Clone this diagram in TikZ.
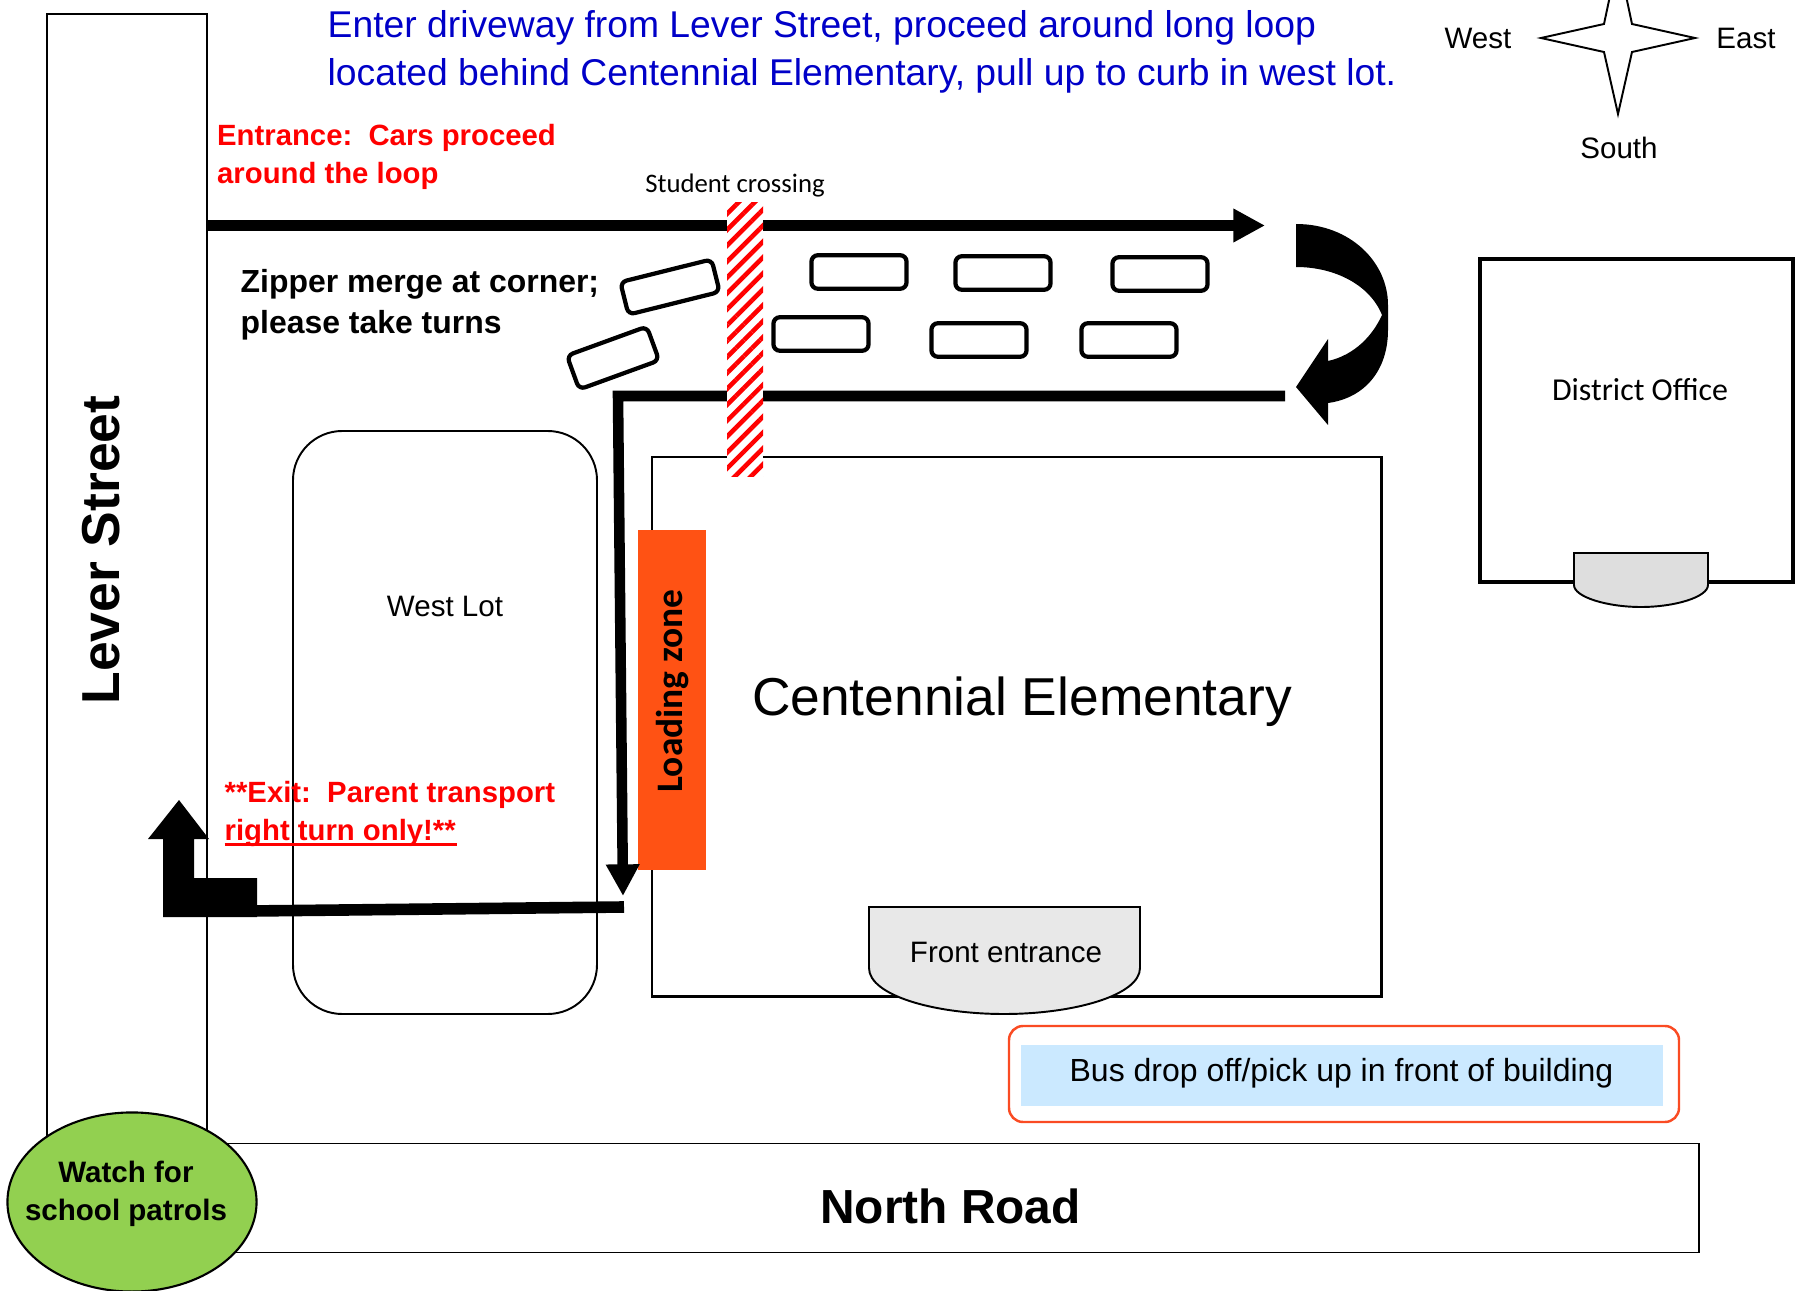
\documentclass[tikz,border=0pt]{standalone}
\usepackage{fontspec}
\setmainfont{Liberation Sans}
\newfontfamily\carlitofont{Carlito}
\usetikzlibrary{arrows.meta,patterns.meta,shapes.geometric}
\definecolor{bluetext}{RGB}{0,0,200}
\definecolor{loadorange}{RGB}{255,82,20}
\definecolor{watchgreen}{RGB}{146,208,80}
\definecolor{busblue}{RGB}{203,233,255}
\definecolor{busborder}{RGB}{250,75,35}
\definecolor{doorgrey}{RGB}{222,222,222}
\definecolor{frontgrey}{RGB}{232,232,232}
\tikzset{
    plainlabel/.style={inner sep=0, font=\fontsize{8.4}{10}\selectfont},
    calibrilabel/.style={inner sep=0, font=\carlitofont\fontsize{9.08}{10}\selectfont},
    redlabel/.style={inner sep=0, anchor=west, align=left, text=red, font=\bfseries\fontsize{8.33}{10.8}\selectfont},
    roadline/.style={line width=3pt},
    thinwall/.style={draw=black, line width=0.55pt},
    carbox/.style={draw=black, line width=1.2pt, rectangle, rounded corners=1.8pt, minimum width=0.95cm, minimum height=0.335cm, inner sep=0},
}
\begin{document}
\begin{tikzpicture}[x=0.01cm, y=-0.01cm]
    \useasboundingbox (0,0) rectangle (1796,1291);
    \clip (0,0) rectangle (1796,1291);
    \draw[thinwall] (47,14) rectangle (207,1150);
    \draw[thinwall] (150,1143.5) rectangle (1699,1252.5);
    \draw[thinwall, rounded corners=14pt] (293,431) rectangle (597,1014);
    \draw[thinwall, line width=0.62pt] (652,457) rectangle (1381.5,996.5);
    \draw[draw=black, line width=1.1pt] (1480,582) -- (1480,259) -- (1793,259) -- (1793,582) -- cycle;
    \draw[thinwall, fill=frontgrey] (869,907) -- (1140,907) -- (1140,968) .. controls (1140,995) and (1075,1014) .. (1004,1014) .. controls (933,1014) and (869,995) .. (869,968) -- cycle;
    \draw[thinwall, fill=doorgrey] (1574,553) -- (1708,553) -- (1708,585) .. controls (1708,597) and (1675,607) .. (1641,607) .. controls (1607,607) and (1574,597) .. (1574,585) -- cycle;
    \fill[loadorange] (638,530) rectangle (706,870);
    \coordinate (toproadstart) at (207,225.5);
    \coordinate (toproadend) at (1265,225.5);
    \coordinate (lowroadstart) at (1285,396);
    \coordinate (lowroadcorner) at (618,396);
    \coordinate (lowroadend) at (623,896);
    \coordinate (exitroadstart) at (624,907);
    \coordinate (exitroadend) at (250,911);
    \draw[roadline, -{Triangle[length=9pt,width=9pt]}] (toproadstart) -- (toproadend);
    \draw[roadline, -{Triangle[length=9pt,width=9pt]}] (lowroadstart) -- (lowroadcorner) -- (lowroadend);
    \draw[roadline, line width=3.3pt] (exitroadstart) -- (exitroadend);
    \fill[black] (163,917) -- (257,917) -- (257,878) -- (194,878) -- (194,839) -- (209,839) -- (179,800) -- (148,839) -- (163,839) -- cycle;
    \fill[black] (1296,224) .. controls (1350,224) and (1388,262) .. (1388,305) -- (1388,330) .. controls (1388,370) and (1365,398) .. (1328,403) -- (1328,425) -- (1296,387) -- (1328,339) -- (1328,361) .. controls (1355,355) and (1373,335) .. (1382,315) .. controls (1370,285) and (1335,267) .. (1296,267) -- cycle;
    \fill[white] (727,203) rectangle (763,476);
    \fill[pattern={Lines[angle=45,distance=3.2pt,line width=1.3pt]}, pattern color=red] (727,203) rectangle (763,476);
    \node[carbox] (car1) at (859,272) {};
    \node[carbox] (car2) at (1003,273) {};
    \node[carbox] (car3) at (1160,274) {};
    \node[carbox] (car4) at (821,334) {};
    \node[carbox] (car5) at (979,340) {};
    \node[carbox] (car6) at (1129,340) {};
    \node[carbox, rotate=14, minimum width=0.94cm] (car7) at (670,287) {};
    \node[carbox, rotate=20, minimum width=0.85cm, minimum height=0.36cm] (car8) at (613,358) {};
    \draw[draw=black, line width=0.55pt, fill=white] (1618,-42) -- (1632,24) -- (1695,38) -- (1632,52) -- (1618,114) -- (1604,52) -- (1541,38) -- (1604,24) -- cycle;
    \node[draw=black, line width=0.6pt, fill=watchgreen, ellipse, minimum width=2.49cm, minimum height=1.79cm, inner sep=0] (patrol) at (132,1202) {};
    \node[inner sep=0, align=center, font=\bfseries\fontsize{8.4}{10.8}\selectfont] (patroltext) at (126,1194) {Watch for\\school patrols};
    \node[inner sep=0, anchor=west, align=left, text=bluetext, font=\fontsize{10.6}{13.5}\selectfont] (directions) at (327,52) {Enter driveway from Lever Street, proceed around long loop\\located behind Centennial Elementary, pull up to curb in west lot.};
    \node[plainlabel] (west) at (1478,38) {West};
    \node[plainlabel] (east) at (1746,38) {East};
    \node[plainlabel] (south) at (1619,148) {South};
    \node[redlabel] (entrance) at (216.5,157) {Entrance:\ \ Cars proceed\\around the loop};
    \node[calibrilabel, font=\carlitofont\fontsize{7.6}{9}\selectfont] (crossing) at (735,186) {Student crossing};
    \node[inner sep=0, anchor=west, align=left, font=\bfseries\fontsize{9.08}{11.6}\selectfont] (zipper) at (240,305) {Zipper merge at corner;\\please take turns};
    \node[calibrilabel] (districtoffice) at (1640,390) {District Office};
    \node[plainlabel] (westlot) at (445,606) {West Lot};
    \node[inner sep=0, rotate=90, font=\carlitofont\bfseries\fontsize{10.64}{12}\selectfont] (loading) at (672.5,691) {Loading zone};
    \node[inner sep=0, font=\fontsize{15.17}{17}\selectfont] (elementary) at (1022,701.5) {Centennial Elementary};
    \node[redlabel] (exitnote) at (224,814) {**Exit:\ \ Parent transport\\\rlap{\smash{\rule[-1.7pt]{66pt}{1.1pt}}}right turn only!**};
    \node[plainlabel] (front) at (1006,952) {Front entrance};
    \draw[draw=busborder, line width=0.7pt, rounded corners=4pt] (1009,1026) rectangle (1679,1122);
    \fill[busblue] (1021,1045) rectangle (1663,1106);
    \node[inner sep=0, font=\fontsize{9.1}{11}\selectfont] (bus) at (1341.5,1073) {Bus drop off/pick up in front of building};
    \node[inner sep=0, font=\bfseries\fontsize{13.6}{15}\selectfont] (northroad) at (950.5,1206) {North Road};
    \node[inner sep=0, rotate=90, font=\bfseries\fontsize{15.2}{17}\selectfont] (leverstreet) at (101,550) {Lever Street};
\end{tikzpicture}
\end{document}
